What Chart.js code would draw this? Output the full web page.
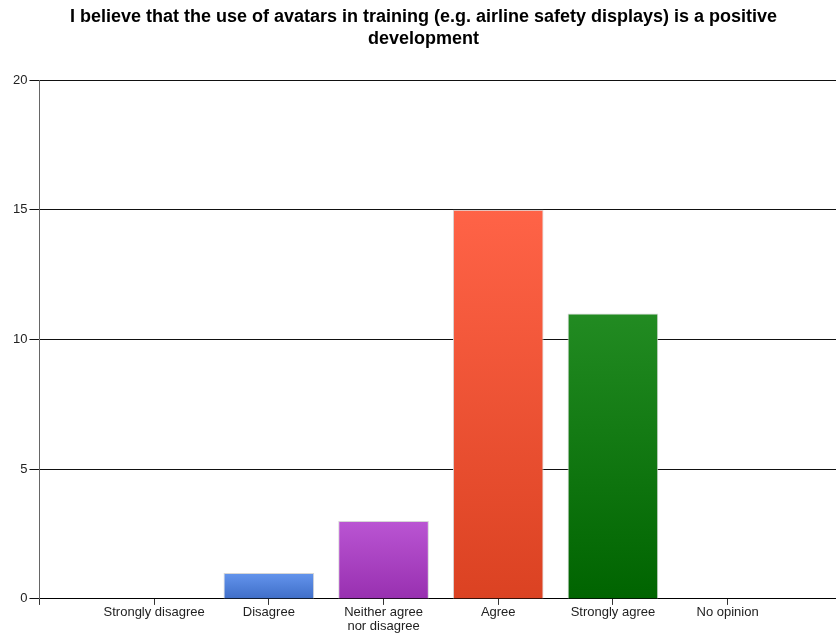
<!DOCTYPE html>
<html lang="en">
<head>
    <meta charset="UTF-8">
    <title>Avatars in training</title>
    <script src="https://cdn.jsdelivr.net/npm/chart.js"></script>
    <style>
        body {
            margin: 0;
            padding: 0;
            background: #fff;
        }
        .chart-container {
            width: 836px;
            height: 634px;
        }
    </style>
</head>
<body>
    <div class="chart-container">
        <canvas id="surveyChart"></canvas>
    </div>

    <script>
        // Survey answers
        const categories = ['Strongly disagree', 'Disagree', ['Neither agree', 'nor disagree'], 'Agree', 'Strongly agree', 'No opinion'];
        const counts = [0, 1, 3, 15, 11, 0];
        const yTicks = [0, 5, 10, 15, 20];

        // gradient top / bottom colour of each bar
        const topColors = ['#6495ED', '#6495ED', '#BA55D3', '#FF6347', '#228B22', '#228B22'];
        const bottomColors = ['#3F6EC8', '#3F6EC8', '#9830B0', '#DB4222', '#006400', '#006400'];

        function barGradient(context) {
            const chart = context.chart;
            const i = context.dataIndex;
            if (!chart.chartArea || i === undefined) return topColors[0];
            const y = chart.scales.y;
            const top = y.getPixelForValue(counts[i]);
            const bottom = y.getPixelForValue(0);
            const g = chart.ctx.createLinearGradient(0, top, 0, bottom === top ? top + 1 : bottom);
            g.addColorStop(0, topColors[i]);
            g.addColorStop(1, bottomColors[i]);
            return g;
        }

        const font = 'Liberation Sans, Arial, sans-serif';

        const ctx = document.getElementById('surveyChart').getContext('2d');
        new Chart(ctx, {
            type: 'bar',
            data: {
                datasets: [{
                    data: counts.map((v, i) => ({ x: i + 1, y: v })),
                    backgroundColor: barGradient,
                    borderColor: '#d6d6d6',
                    borderWidth: c => (counts[c.dataIndex] ? 1 : 0),
                    borderSkipped: 'start',
                    barPercentage: 0.79,
                    categoryPercentage: 1
                }]
            },
            options: {
                responsive: true,
                maintainAspectRatio: false,
                animation: false,
                layout: { padding: { left: 11, right: 0, top: 0, bottom: 1 } },
                plugins: {
                    legend: { display: false },
                    tooltip: { enabled: false },
                    title: {
                        display: true,
                        text: ['I believe that the use of avatars in training (e.g. airline safety displays) is a positive', 'development'],
                        color: '#000',
                        font: { family: font, size: 18, weight: 'bold', lineHeight: 1.17 },
                        padding: { top: 7, bottom: 31 }
                    }
                },
                scales: {
                    x: {
                        type: 'linear',
                        offset: false,
                        min: 0,
                        max: 6.945,
                        afterBuildTicks: scale => {
                            scale.ticks = scale.ticks.filter(t => Number.isInteger(t.value));
                        },
                        ticks: {
                            stepSize: 1,
                            autoSkip: false,
                            maxRotation: 0,
                            padding: 0,
                            color: '#222',
                            font: { family: font, size: 13, lineHeight: 1.08 },
                            callback: v => (v >= 1 && v <= categories.length ? categories[v - 1] : '')
                        },
                        grid: { offset: false, drawOnChartArea: false, drawTicks: true, tickLength: 6, color: '#333' },
                        border: { color: '#000', width: 1 }
                    },
                    y: {
                        min: 0,
                        max: 20,
                        afterBuildTicks: scale => {
                            scale.ticks = yTicks.map(v => ({ value: v }));
                        },
                        ticks: {
                            padding: 2,
                            color: '#222',
                            font: { family: font, size: 13 }
                        },
                        grid: { color: '#111', tickLength: 10, lineWidth: 1 },
                        border: { color: '#666', width: 1 }
                    }
                }
            }
        });
    </script>
</body>
</html>
